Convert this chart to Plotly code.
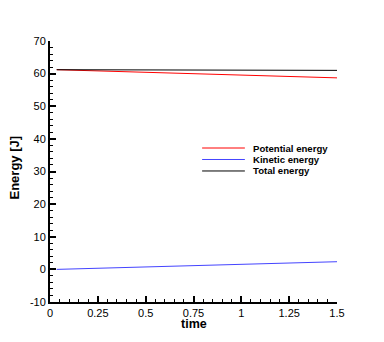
import plotly.graph_objects as go

time = [0.035, 0.25, 0.5, 0.75, 1.0, 1.25, 1.5]
potential = [61.2, 60.85, 60.45, 60.05, 59.6, 59.15, 58.7]
kinetic = [0.0, 0.35, 0.75, 1.15, 1.55, 1.95, 2.35]
total = [61.2, 61.2, 61.15, 61.15, 61.1, 61.05, 61.0]

names = ["Potential energy", "Kinetic energy", "Total energy"]
colors = ["#ff0000", "#4444ff", "#000000"]
series = [potential, kinetic, total]

x_ticks = [0, 0.25, 0.5, 0.75, 1, 1.25, 1.5]
x_labels = ["0", "0.25", "0.5", "0.75", "1", "1.25", "1.5"]
y_ticks = [-10, 0, 10, 20, 30, 40, 50, 60, 70]
y_labels = ["-10", "0", "10", "20", "30", "40", "50", "60", "70"]

fig = go.Figure()
for name, col, ys in zip(names, colors, series):
    fig.add_trace(go.Scatter(x=time, y=ys, mode="lines", name=name,
                             line=dict(color=col, width=1), showlegend=False))

font = "Liberation Sans, Arial, sans-serif"

# legend drawn as paper-referenced keys + labels
leg_x0, leg_x1, leg_y0, leg_dy = 0.53, 0.679, 0.59, 0.044
for i, (name, col) in enumerate(zip(names, colors)):
    yy = leg_y0 - i * leg_dy
    fig.add_shape(type="line", xref="paper", yref="paper", x0=leg_x0, x1=leg_x1,
                  y0=yy, y1=yy, line=dict(color=col, width=1))
    fig.add_annotation(xref="paper", yref="paper", x=leg_x1 + 0.02, y=yy,
                       xanchor="left", yanchor="middle", showarrow=False,
                       text="<b>" + name + "</b>", font=dict(size=9.6, family=font, color="black"))

# axis titles
fig.add_annotation(xref="paper", yref="paper", x=0.5, y=0, yanchor="middle", yshift=-22, borderpad=0,
                   showarrow=False, text="<b>time</b>", font=dict(size=12.5, family=font, color="black"))
fig.add_annotation(xref="paper", yref="paper", x=0, y=0.5, xanchor="center", xshift=-36, yshift=4,
                   textangle=-90, showarrow=False, text="<b>Energy [J]</b>",
                   font=dict(size=13, family=font, color="black"))

fig.update_layout(
    width=376, height=334,
    margin=dict(l=42, r=47, t=33, b=40),
    paper_bgcolor="white", plot_bgcolor="white",
    font=dict(family=font, size=11, color="black"),
    showlegend=False,
    xaxis=dict(range=[0, 1.5], tickvals=x_ticks, ticktext=x_labels, showgrid=False, zeroline=False,
               showline=True, linecolor="black", linewidth=2, automargin=False,
               ticks="inside", ticklen=6, tickwidth=2, tickcolor="black",
               minor=dict(dtick=0.05, tick0=0, ticks="inside", ticklen=3, tickcolor="black", tickwidth=1, showgrid=False)),
    yaxis=dict(range=[-10, 70], tickvals=y_ticks, ticktext=y_labels, showgrid=False, zeroline=False,
               showline=True, linecolor="black", linewidth=2, automargin=False,
               ticks="inside", ticklen=6, tickwidth=2, tickcolor="black",
               minor=dict(dtick=2, tick0=0, ticks="inside", ticklen=3, tickcolor="black", tickwidth=1, showgrid=False)),
)
fig.write_html("out.html")
